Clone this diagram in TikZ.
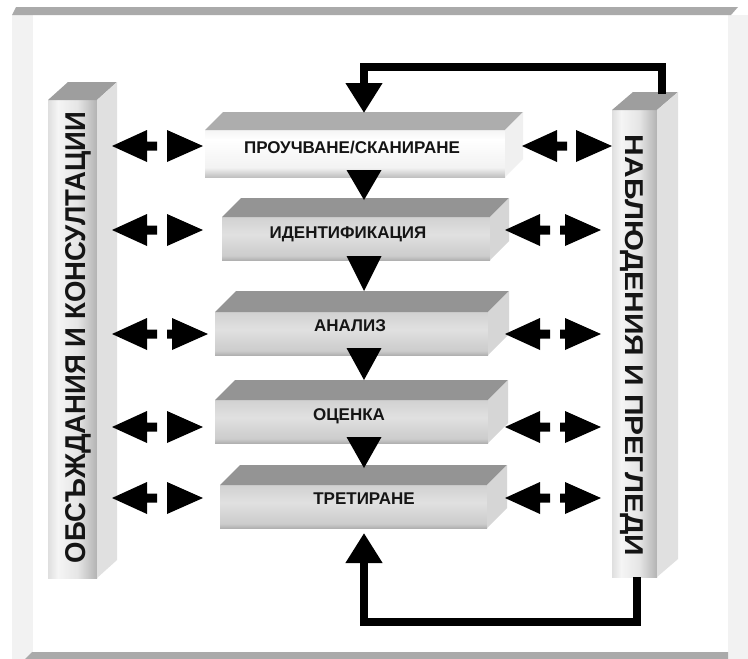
\documentclass[tikz,border=0pt]{standalone}
\usepackage{fontspec}
\usepackage{graphicx}
\setmainfont{Liberation Sans}
\usetikzlibrary{arrows.meta,calc}

\definecolor{barc}{HTML}{AAAAAA}
\definecolor{framec}{HTML}{F2F2F2}
\definecolor{txtc}{HTML}{151515}
\definecolor{topA}{gray}{0.68}
\definecolor{topB}{gray}{0.58}
\definecolor{sideA}{gray}{0.94}
\definecolor{sideB}{gray}{0.84}
\definecolor{ptop}{gray}{0.62}
\definecolor{pside}{gray}{0.88}
% box 1 front
\definecolor{a0}{gray}{0.72}\definecolor{a1}{gray}{0.45}\definecolor{a2}{gray}{0.58}
\definecolor{a3}{gray}{0.95}\definecolor{a4}{gray}{1.00}\definecolor{a5}{gray}{0.92}
\definecolor{a6}{gray}{0.62}\definecolor{a7}{gray}{0.52}
% boxes 2-5 front
\definecolor{c0}{gray}{0.66}\definecolor{c1}{gray}{0.40}\definecolor{c2}{gray}{0.46}
\definecolor{c3}{gray}{0.80}\definecolor{c4}{gray}{0.88}\definecolor{c5}{gray}{0.82}
\definecolor{c6}{gray}{0.58}\definecolor{c7}{gray}{0.40}
% pillars
\definecolor{p0}{gray}{0.58}\definecolor{p1}{gray}{0.76}\definecolor{p2}{gray}{0.96}
\definecolor{p3}{gray}{0.90}\definecolor{p4}{gray}{0.70}\definecolor{p5}{gray}{0.48}
\definecolor{p6}{gray}{0.62}

\pgfdeclareverticalshading{metalone}{100bp}{color(0bp)=(a0); color(6bp)=(a1); color(16bp)=(a2); color(35bp)=(a3); color(65bp)=(a4); color(85bp)=(a5); color(94bp)=(a6); color(100bp)=(a7)}
\pgfdeclareverticalshading{metal}{100bp}{color(0bp)=(c0); color(6bp)=(c1); color(14bp)=(c2); color(30bp)=(c3); color(55bp)=(c4); color(75bp)=(c5); color(90bp)=(c6); color(100bp)=(c7)}
\pgfdeclarehorizontalshading{pillarsh}{100bp}{color(0bp)=(p0); color(12bp)=(p1); color(35bp)=(p2); color(55bp)=(p3); color(75bp)=(p4); color(88bp)=(p5); color(100bp)=(p6)}

\tikzset{
  frontface/.style={inner sep=0pt, outer sep=0pt, draw=none},
  boxtext/.style={anchor=base, inner sep=0pt, text=txtc, font=\fontsize{17}{17}\selectfont\bfseries},
  arrc/.style={fill=black},
  fbline/.style={draw=black, line width=8pt, -{Triangle[width=35pt,length=30pt]}},
}

% slab: name, cx, cy, w, h, depth, shading, topcolor, sidecolor
\newcommand\slab[9]{%
  \node[frontface, shading=#7, minimum width=#4pt, minimum height=#5pt] (#1) at (#2,#3) {};
  \fill[#8] (#1.north west) -- (#1.north east) -- ++(#6,-#6) -- ($(#1.north west)+(#6,-#6)$) -- cycle;
  \fill[#9] (#1.north east) -- ++(#6,-#6) -- ($(#1.south east)+(#6,-#6)$) -- (#1.south east) -- cycle;
}
% pillar: name, cx, cy, w, h, dx, dy
\newcommand\pillar[7]{%
  \node[frontface, shading=pillarsh, minimum width=#4pt, minimum height=#5pt] (#1) at (#2,#3) {};
  \fill[ptop] (#1.north west) -- (#1.north east) -- ++(#6,-#7) -- ($(#1.north west)+(#6,-#7)$) -- cycle;
  \fill[pside] (#1.north east) -- ++(#6,-#7) -- ($(#1.south east)+(#6,-#7)$) -- (#1.south east) -- cycle;
}
\newcommand\larr[2]{\fill[arrc] (#1,#2) -- ++(35,-16) -- ++(0,11.5) -- ++(10,0) -- ++(0,9) -- ++(-10,0) -- ++(0,11.5) -- cycle;}
\newcommand\rarr[2]{\fill[arrc] (#1,#2) -- ++(-36,-16) -- ++(0,32) -- cycle;}
\newcommand\rarrt[2]{\fill[arrc] (#1,#2) -- ++(-36,-16) -- ++(0,11.5) -- ++(-5,0) -- ++(0,9) -- ++(5,0) -- ++(0,11.5) -- cycle;}
\newcommand\dtri[3]{\fill[arrc] (#1-17.5,#2) -- (#1+17.5,#2) -- (#1,#3) -- cycle;}

\begin{document}
\begin{tikzpicture}[x=1pt,y=-1pt]
\useasboundingbox (0,0) rectangle (748,659);
\fill[white] (0,0) rectangle (748,659);
% frame
\fill[framec] (12,15) rectangle (748,659);
\fill[white] (33,15) rectangle (728,652);
\fill[barc] (12,15) -- (16,7) -- (738,7) -- (731,15) -- cycle;
\fill[barc] (25,659) -- (32,652) -- (728,652) -- (728,659) -- cycle;

% pillars
\pillar{lp}{72.5}{339}{49}{478}{20}{18}
\pillar{rp}{634.5}{343.5}{45}{467}{21}{18}
\node[rotate=90, anchor=base, inner sep=0pt, text=txtc] (lpt) at (85,337.5)
  {\resizebox{451pt}{20pt}{\bfseries ОБСЪЖДАНИЯ И КОНСУЛТАЦИИ}};
\node[rotate=-90, anchor=base, inner sep=0pt, text=txtc] (rpt) at (625,345.5)
  {\resizebox{421pt}{18pt}{\bfseries НАБЛЮДЕНИЯ И ПРЕГЛЕДИ}};

% slabs
\slab{b1}{355}{153.5}{300}{47}{18}{metalone}{topA}{sideA}
\slab{b2}{356}{238.5}{268}{43}{19}{metal}{topB}{sideB}
\slab{b3}{351.5}{333.5}{273}{43}{21}{metal}{topB}{sideB}
\slab{b4}{351.5}{421.5}{273}{43}{20}{metal}{topB}{sideB}
\slab{b5}{353.5}{506.5}{267}{43}{20}{metal}{topB}{sideB}

\node[boxtext] (t1) at (352,153) {ПРОУЧВАНЕ/СКАНИРАНЕ};
\node[boxtext] (t2) at (348,238) {ИДЕНТИФИКАЦИЯ};
\node[boxtext] (t3) at (350,331) {АНАЛИЗ};
\node[boxtext] (t4) at (349,420) {ОЦЕНКА};
\node[boxtext] (t5) at (364,504) {ТРЕТИРАНЕ};

% down arrows between steps
\dtri{364}{170}{200}
\dtri{364}{256}{291}
\dtri{364}{348}{380}
\dtri{364}{437}{468}

% left exchange arrows
\larr{112}{146}\rarr{203}{146}
\larr{112}{230}\rarr{203}{230}
\larr{112}{334}\rarrt{208}{334}
\larr{112}{427}\rarr{203}{427}
\larr{112}{498}\rarr{203}{498}
% right exchange arrows
\larr{522}{146}\rarr{612}{146}
\larr{505}{230}\rarrt{601}{230}
\larr{505}{334}\rarrt{601}{334}
\larr{505}{427}\rarrt{601}{427}
\larr{505}{498}\rarrt{601}{498}

% feedback loops
\coordinate (fbtop) at (662,94);
\coordinate (tiptop) at (364,113);
\coordinate (fbbot) at (637,577);
\coordinate (tipbot) at (364,533);
\draw[fbline] (fbtop) -- ++(0,-27) -| (tiptop);
\draw[fbline] (fbbot) -- ++(0,45) -| (tipbot);
\end{tikzpicture}
\end{document}
